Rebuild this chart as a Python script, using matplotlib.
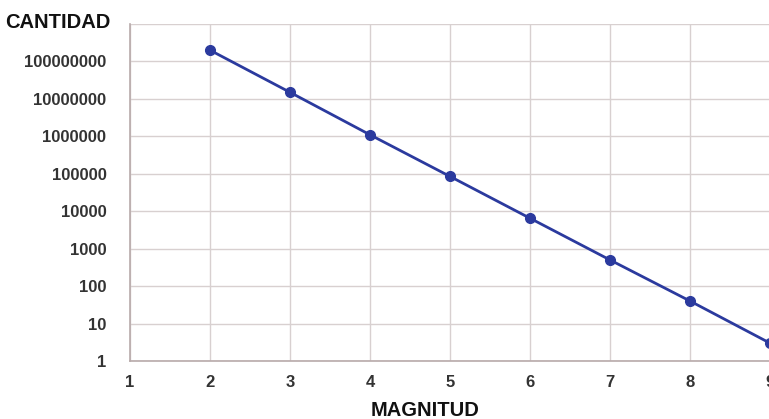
import matplotlib
matplotlib.use("Agg")
import matplotlib.pyplot as plt

magnitud = [2, 3, 4, 5, 6, 7, 8, 9]
cantidad = [2.0e8, 1.5e7, 1.1e6, 8.5e4, 6.5e3, 500, 40, 3]
yticks = [1, 10, 100, 1000, 10000, 100000, 1000000, 10000000, 100000000]
xticks = [1, 2, 3, 4, 5, 6, 7, 8, 9]

plt.rcParams['font.family'] = ['Liberation Sans', 'DejaVu Sans']

fig = plt.figure(figsize=(7.69, 4.19), dpi=100)
ax = fig.add_axes([130/769, 1-361/419, 640/769, (361-24)/419])
ax.set_yscale('log')
ax.plot(magnitud, cantidad, color='#2b3a9e', lw=2, marker='o', ms=7, zorder=3)
ax.set_xlim(1, 9)
ax.set_ylim(1, 1e9)
ax.set_xticks(xticks)
ax.set_xticklabels([str(v) for v in xticks])
ax.set_yticks(yticks)
ax.set_yticklabels([str(v) for v in yticks])
ax.minorticks_off()
ax.yaxis.set_minor_locator(matplotlib.ticker.NullLocator())
ax.grid(True, color='#d8d0d0', lw=1)
for s in ['top', 'right']:
    ax.spines[s].set_visible(False)
for s in ['left', 'bottom']:
    ax.spines[s].set_color('#b8aaaa')
    ax.spines[s].set_linewidth(1.2)
ax.axhline(1e9, color='#d8d0d0', lw=1)
ax.tick_params(length=0, labelsize=12, labelcolor='#333333')
for lab in ax.get_xticklabels() + ax.get_yticklabels():
    lab.set_fontweight('bold')
ax.tick_params(axis='x', pad=10)
ax.tick_params(axis='y', pad=17)

fig.text(5/769, 1-22/419, 'CANTIDAD', fontsize=14.5, fontweight='bold', ha='left', va='center', color='#111111')
fig.text(425/769, 1-410/419, 'MAGNITUD', fontsize=14.5, fontweight='bold', ha='center', va='center', color='#111111')

fig.savefig('out.png', dpi=100)
